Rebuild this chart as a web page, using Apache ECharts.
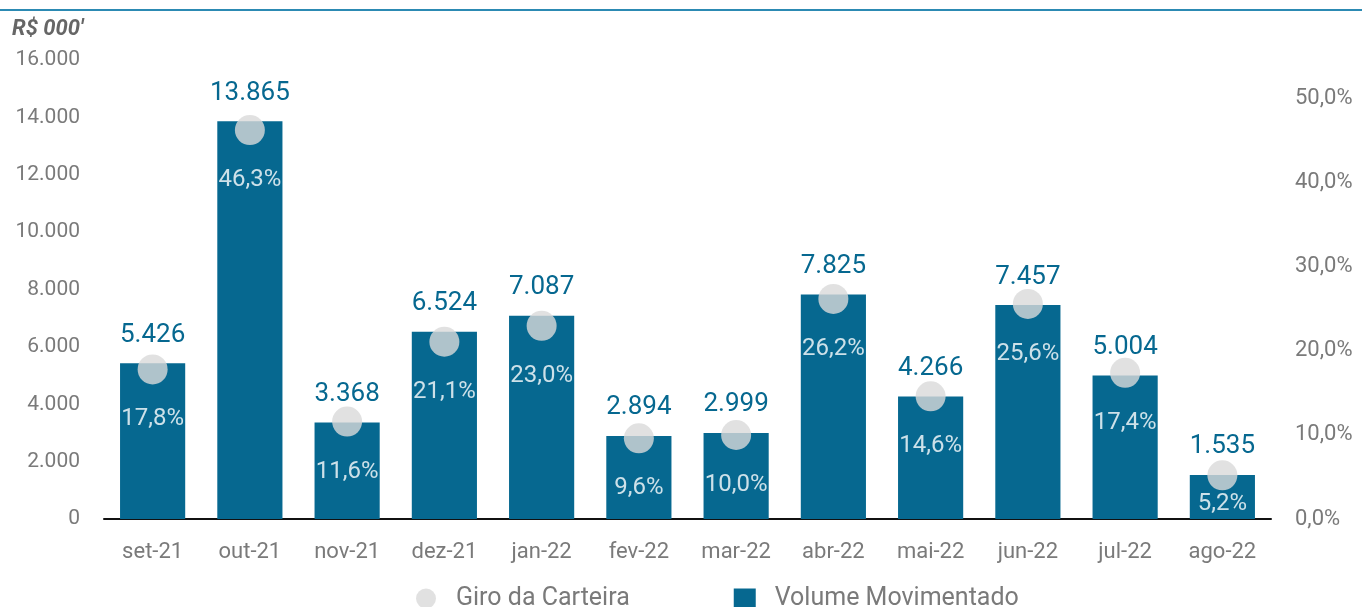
<!DOCTYPE html>
<html>
<head>
<meta charset="utf-8">
<script src="https://cdn.jsdelivr.net/npm/echarts@6/dist/echarts.min.js"></script>
<style>
  html, body { margin: 0; padding: 0; background: #fff; }
  #chart { width: 1362px; height: 607px; }
</style>
</head>
<body>
<div id="chart"></div>
<script>
// dados
var meses = ['set-21', 'out-21', 'nov-21', 'dez-21', 'jan-22', 'fev-22', 'mar-22', 'abr-22', 'mai-22', 'jun-22', 'jul-22', 'ago-22'];
var volume = [5426, 13865, 3368, 6524, 7087, 2894, 2999, 7825, 4266, 7457, 5004, 1535];
var giro = [17.8, 46.3, 11.6, 21.1, 23.0, 9.6, 10.0, 26.2, 14.6, 25.6, 17.4, 5.2];

var azul = '#066890';
var cinza = '#d9d9d9';
var texto = '#7a7a7a';
var fonte = 'Roboto, "Open Sans", sans-serif';

function milhar(v) {
  return String(v).replace(/\B(?=(\d{3})+(?!\d))/g, '.');
}

// o ultimo rotulo fica mais perto do ponto, para caber na barra
var giroDados = giro.map(function (v, i) {
  if (i === giro.length - 1) return { value: v, label: { distance: 2 } };
  return v;
});

var myChart = echarts.init(document.getElementById('chart'));
myChart.setOption({
  animation: false,
  backgroundColor: '#fff',
  textStyle: { fontFamily: fonte },
  graphic: [
    {
      type: 'line',
      shape: { x1: 0, y1: 10, x2: 1362, y2: 10 },
      style: { stroke: '#2c8ab3', lineWidth: 2 }
    },
    {
      type: 'text',
      left: 12,
      top: 18,
      style: {
        text: "R$ 000'",
        font: 'italic bold 22px ' + fonte,
        fill: '#666'
      }
    }
  ],
  grid: { left: 104, right: 91, top: 60, bottom: 88 },
  legend: {
    bottom: -9,
    left: 411,
    itemGap: 104,
    itemWidth: 22,
    itemHeight: 20,
    textStyle: { color: texto, fontSize: 25, fontFamily: fonte, padding: [0, 0, 0, 14] },
    data: [
      { name: 'Giro da Carteira', icon: 'circle' },
      { name: 'Volume Movimentado', icon: 'rect' }
    ]
  },
  xAxis: {
    type: 'category',
    data: meses,
    axisLine: { lineStyle: { color: '#111', width: 2 } },
    axisTick: { show: false },
    axisLabel: { color: texto, fontSize: 22, margin: 22 }
  },
  yAxis: [
    {
      type: 'value',
      min: 0,
      max: 16000,
      interval: 2000,
      splitLine: { show: false },
      axisLine: { show: false },
      axisLabel: { color: texto, fontSize: 21, margin: 24, formatter: function (v) { return milhar(v); } }
    },
    {
      type: 'value',
      min: 0,
      max: 54.64,
      interval: 10,
      splitLine: { show: false },
      axisLine: { show: false },
      axisLabel: {
        color: texto,
        fontSize: 22,
        margin: 24,
        padding: [4, 0, 0, 0],
        formatter: function (v) {
          if (Math.abs(v % 10) > 0.001) return '';
          return v.toFixed(1).replace('.', ',') + '%';
        }
      }
    }
  ],
  series: [
    {
      name: 'Volume Movimentado',
      type: 'bar',
      data: volume,
      barWidth: '67%',
      itemStyle: { color: azul },
      label: {
        show: true,
        position: 'top',
        distance: 15,
        color: azul,
        fontSize: 26,
        formatter: function (p) { return milhar(p.value); }
      }
    },
    {
      name: 'Giro da Carteira',
      type: 'scatter',
      yAxisIndex: 1,
      data: giroDados,
      symbol: 'circle',
      symbolSize: 30,
      itemStyle: { color: cinza },
      z: 5,
      label: {
        show: true,
        position: 'bottom',
        distance: 23,
        color: '#fff',
        fontSize: 24,
        formatter: function (p) { return p.value.toFixed(1).replace('.', ',') + '%'; }
      }
    }
  ]
});
</script>
</body>
</html>
